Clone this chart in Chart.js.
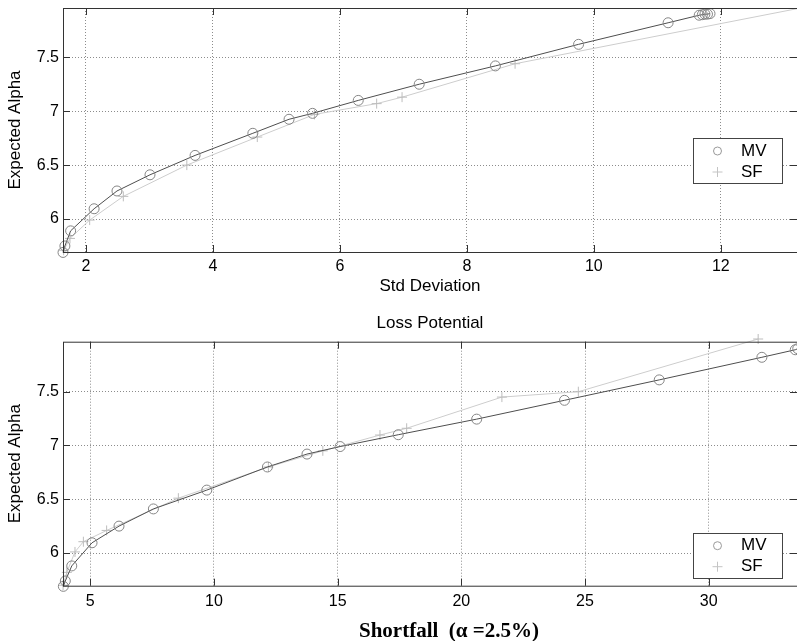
<!DOCTYPE html>
<html>
<head>
<meta charset="utf-8">
<script src="https://cdn.jsdelivr.net/npm/chart.js@4"></script>
<style>
body { margin: 0; background: #fff; }
canvas { position: absolute; left: 0; }
#stdChart { top: 0; }
#sfChart { top: 300px; }
</style>
</head>
<body>
<canvas id="stdChart" width="797" height="300"></canvas>
<canvas id="sfChart" width="797" height="341"></canvas>
<script>
// Top panel - expected alpha vs std deviation
var mvStdX = [1.64, 1.67, 1.76, 2.13, 2.49, 3.01, 3.72, 4.63, 5.20, 5.57, 6.29, 7.25, 8.45, 9.76, 11.17, 11.66, 11.71, 11.75, 11.79, 11.83];
var mvStdY = [5.69, 5.75, 5.89, 6.095, 6.26, 6.41, 6.59, 6.795, 6.925, 6.98, 7.10, 7.25, 7.42, 7.62, 7.82, 7.89, 7.895, 7.90, 7.90, 7.905];
var sfStdX = [1.65, 1.75, 2.06, 2.59, 3.59, 4.70, 5.60, 6.58, 6.98, 8.76, 13.5];
var sfStdY = [5.71, 5.82, 5.99, 6.21, 6.50, 6.76, 6.97, 7.07, 7.13, 7.44, 7.985];

// Bottom panel - expected alpha vs shortfall
var mvEsX = [3.91, 3.99, 4.25, 5.07, 6.16, 7.55, 9.71, 12.16, 13.76, 15.10, 17.45, 20.62, 24.17, 28.0, 32.15, 33.5, 33.6];
var mvEsY = [5.69, 5.74, 5.88, 6.095, 6.25, 6.41, 6.585, 6.80, 6.92, 6.99, 7.10, 7.245, 7.42, 7.61, 7.82, 7.89, 7.90];
var sfEsX = [3.90, 4.05, 4.38, 4.72, 5.66, 8.56, 12.2, 14.4, 16.71, 17.79, 21.64, 24.73, 32.0];
var sfEsY = [5.70, 5.82, 6.01, 6.105, 6.21, 6.51, 6.80, 6.95, 7.097, 7.16, 7.45, 7.50, 7.99];

var alphaTicks = [6, 6.5, 7, 7.5];
var stdTicks = [2, 4, 6, 8, 10, 12];
var esTicks = [5, 10, 15, 20, 25, 30];
var seriesNames = ["MV", "SF"];

function pts(xs, ys) {
  return xs.map(function(x, i) { return {x: x, y: ys[i]}; });
}

function fixTicks(list) {
  return function(scale) {
    scale.ticks = list.map(function(v) { return {value: v}; });
  };
}

// keep the plot box where the figure has it, no extra label padding
function fixSize(prop, size) {
  return function(s) {
    s[prop] = size;
    s.paddingTop = 0; s.paddingBottom = 0;
    s.paddingLeft = 0; s.paddingRight = 0;
  };
}

// matlab style box with inward ticks
var framePlugin = {
  id: "frame",
  afterDatasetsDraw: function(chart) {
    var a = chart.chartArea, ctx = chart.ctx;
    ctx.save();
    ctx.strokeStyle = "#333";
    ctx.lineWidth = 1;
    ctx.strokeRect(a.left + 0.5, a.top + 0.5, a.right - a.left, a.bottom - a.top);
    ctx.beginPath();
    chart.scales.x.ticks.forEach(function(t) {
      var p = Math.round(chart.scales.x.getPixelForValue(t.value)) + 0.5;
      ctx.moveTo(p, a.top); ctx.lineTo(p, a.top + 7);
      ctx.moveTo(p, a.bottom); ctx.lineTo(p, a.bottom - 7);
    });
    chart.scales.y.ticks.forEach(function(t) {
      var p = Math.round(chart.scales.y.getPixelForValue(t.value)) + 0.5;
      ctx.moveTo(a.left, p); ctx.lineTo(a.left + 7, p);
      ctx.moveTo(a.right, p); ctx.lineTo(a.right - 7, p);
    });
    ctx.stroke();
    ctx.restore();
  }
};

var boxLegend = {
  id: "boxLegend",
  afterDraw: function(chart, args, opts) {
    var a = chart.chartArea, ctx = chart.ctx;
    var w = 89, h = 45;
    var left = a.right - opts.right - w;
    var top = opts.top != null ? a.top + opts.top : a.bottom - opts.bottom - h;
    ctx.save();
    ctx.fillStyle = "#fff";
    ctx.fillRect(left, top, w, h);
    ctx.strokeStyle = "#444";
    ctx.lineWidth = 1;
    ctx.strokeRect(Math.round(left) + 0.5, Math.round(top) + 0.5, w, h);
    var mx = left + 24.5;
    ctx.strokeStyle = "#9a9a9a";
    ctx.beginPath();
    ctx.arc(mx, top + 13, 4, 0, Math.PI * 2);
    ctx.stroke();
    ctx.strokeStyle = "#c4c4c4";
    ctx.beginPath();
    ctx.moveTo(mx - 5, top + 34); ctx.lineTo(mx + 5, top + 34);
    ctx.moveTo(mx, top + 29); ctx.lineTo(mx, top + 39);
    ctx.stroke();
    ctx.fillStyle = "#000";
    ctx.font = "17px 'Liberation Sans', Arial, sans-serif";
    ctx.textBaseline = "middle";
    ctx.fillText(seriesNames[0], left + 48, top + 13);
    ctx.fillText(seriesNames[1], left + 48, top + 34);
    ctx.restore();
  }
};

// x label of the lower panel sits a bit right of centre in the figure
var caption = {
  id: "caption",
  afterDraw: function(chart, args, opts) {
    if (!opts.text) return;
    var a = chart.chartArea, ctx = chart.ctx;
    ctx.save();
    ctx.fillStyle = "#000";
    ctx.font = opts.font;
    ctx.textAlign = "center";
    ctx.textBaseline = "middle";
    ctx.fillText(opts.text, (a.left + a.right) / 2 + opts.shift, a.bottom + opts.below);
    ctx.restore();
  }
};

function makeDatasets(mvX, mvY, sfX, sfY) {
  return [{
    label: seriesNames[0],
    data: pts(mvX, mvY),
    borderColor: "#4e4e4e",
    borderWidth: 1,
    pointStyle: "circle",
    pointRadius: 5,
    pointBorderColor: "#858585",
    pointBackgroundColor: "rgba(0,0,0,0)",
    pointBorderWidth: 1,
    clip: false
  }, {
    label: seriesNames[1],
    data: pts(sfX, sfY),
    borderColor: "#cdcdcd",
    borderWidth: 1,
    pointStyle: "cross",
    pointRadius: 5,
    pointBorderColor: "#bdbdbd",
    pointBorderWidth: 1,
    clip: false
  }];
}

var tickFont = {family: "'Liberation Sans', Arial, sans-serif", size: 16};
var labelFont = {family: "'Liberation Sans', Arial, sans-serif", size: 17};
var gridStyle = {color: "#8c8c8c", drawTicks: false, lineWidth: 1};
var gridBorder = {display: false, dash: [1, 2]};

function yAxis(min, max) {
  return {
    type: "linear",
    min: min,
    max: max,
    afterBuildTicks: fixTicks(alphaTicks),
    afterFit: fixSize("width", 63),
    grid: gridStyle,
    border: gridBorder,
    ticks: {font: tickFont, color: "#000", padding: 4, callback: function(v) { return String(v); }},
    title: {display: true, text: "Expected Alpha", font: labelFont, color: "#000", padding: {top: 5, bottom: 0}}
  };
}

Chart.defaults.font.family = "'Liberation Sans', Arial, sans-serif";

new Chart("stdChart", {
  type: "line",
  data: {datasets: makeDatasets(mvStdX, mvStdY, sfStdX, sfStdY)},
  plugins: [framePlugin, boxLegend],
  options: {
    responsive: false,
    animation: false,
    events: [],
    layout: {autoPadding: false, padding: {top: 8, left: 0, right: 0, bottom: 0}},
    plugins: {
      legend: {display: false},
      tooltip: {enabled: false},
      boxLegend: {right: 15, top: 130}
    },
    scales: {
      x: {
        type: "linear",
        min: 1.64,
        max: 13.2,
        afterBuildTicks: fixTicks(stdTicks),
        afterFit: fixSize("height", 48),
        grid: gridStyle,
        border: gridBorder,
        ticks: {font: tickFont, color: "#000", padding: 5, maxRotation: 0, callback: function(v) { return String(v); }},
        title: {display: true, text: "Std Deviation", font: labelFont, color: "#000", padding: {top: 0, bottom: 3}}
      },
      y: yAxis(5.694, 7.957)
    }
  }
});

new Chart("sfChart", {
  type: "line",
  data: {datasets: makeDatasets(mvEsX, mvEsY, sfEsX, sfEsY)},
  plugins: [framePlugin, boxLegend, caption],
  options: {
    responsive: false,
    animation: false,
    events: [],
    layout: {autoPadding: false, padding: 0},
    plugins: {
      legend: {display: false},
      tooltip: {enabled: false},
      title: {
        display: true,
        text: "Loss Potential",
        fullSize: false,
        color: "#000",
        font: {family: "'Liberation Sans', Arial, sans-serif", size: 17, weight: "normal"},
        padding: {top: 12.8, bottom: 8.5}
      },
      boxLegend: {right: 15, bottom: 8},
      caption: {
        text: "Shortfall  (\u03b1 =2.5%)",
        font: "bold 21px 'Liberation Serif', 'Times New Roman', serif",
        shift: 19,
        below: 46
      }
    },
    scales: {
      x: {
        type: "linear",
        min: 3.896,
        max: 33.57,
        afterBuildTicks: fixTicks(esTicks),
        afterFit: fixSize("height", 55.3),
        grid: gridStyle,
        border: gridBorder,
        ticks: {font: tickFont, color: "#000", padding: 6, maxRotation: 0, callback: function(v) { return String(v); }}
      },
      y: yAxis(5.696, 7.965)
    }
  }
});
</script>
</body>
</html>
